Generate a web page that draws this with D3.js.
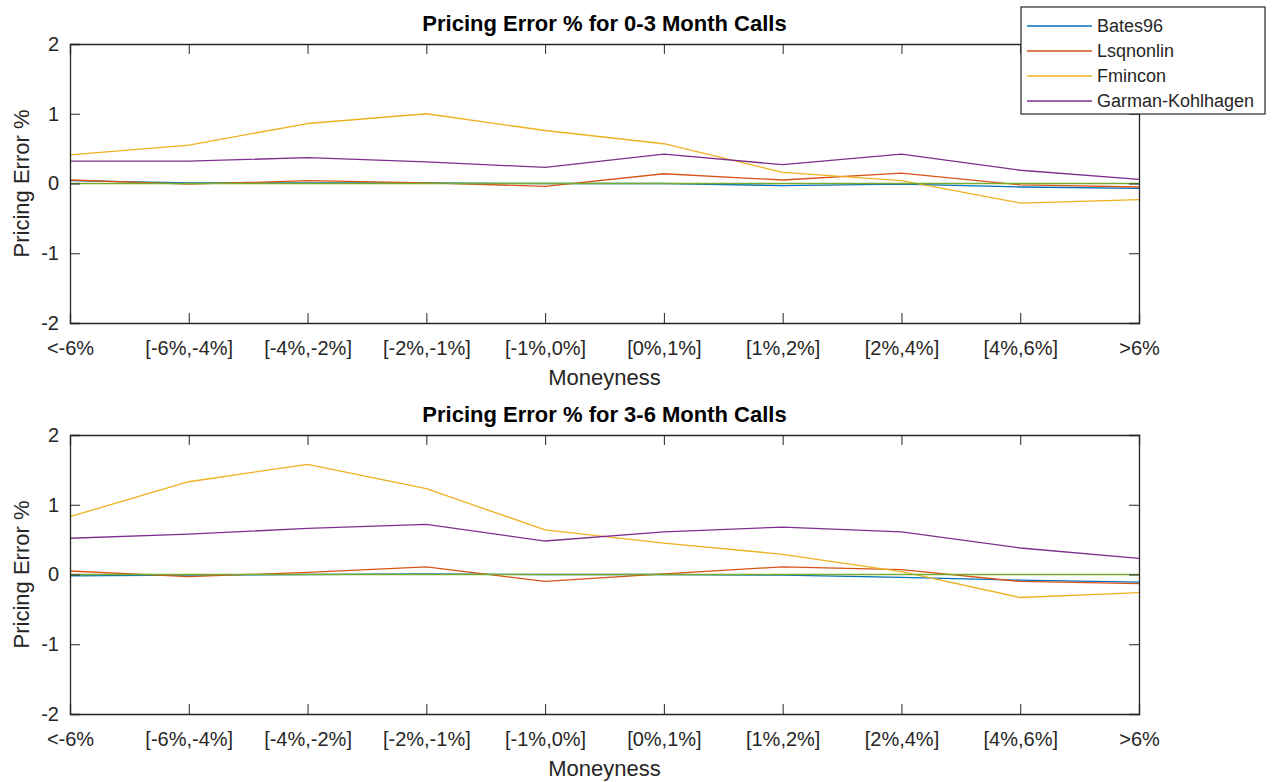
<!DOCTYPE html>
<html>
<head>
<meta charset="utf-8">
<script src="https://cdn.jsdelivr.net/npm/d3@7"></script>
<style>
  html, body { margin: 0; padding: 0; background: #fff; }
  svg { display: block; font-family: "Liberation Sans", Arial, sans-serif; }
</style>
</head>
<body>
<svg id="chart" width="1278" height="782"></svg>
<script>
// Moneyness buckets
const categories = ["<-6%", "[-6%,-4%]", "[-4%,-2%]", "[-2%,-1%]", "[-1%,0%]",
                    "[0%,1%]", "[1%,2%]", "[2%,4%]", "[4%,6%]", ">6%"];
const yTicks = [-2, -1, 0, 1, 2];
const seriesNames = ["Bates96", "Lsqnonlin", "Fmincon", "Garman-Kohlhagen"];

// 0-3 month calls, pricing error %
const bates03   = [0.04, 0.01, 0.01, 0.01, 0.00, 0.00, -0.03, -0.01, -0.05, -0.07];
const lsq03     = [0.05, -0.01, 0.04, 0.01, -0.04, 0.14, 0.05, 0.15, -0.02, -0.05];
const fmincon03 = [0.41, 0.55, 0.86, 1.00, 0.76, 0.57, 0.16, 0.04, -0.28, -0.23];
const gk03      = [0.32, 0.32, 0.37, 0.31, 0.23, 0.42, 0.27, 0.42, 0.19, 0.06];
const zero03    = [0, 0, 0, 0, 0, 0, 0, 0, 0, 0];

// 3-6 month calls, pricing error %
const bates36   = [-0.02, -0.01, 0.00, 0.01, 0.00, 0.00, -0.01, -0.04, -0.08, -0.11];
const lsq36     = [0.05, -0.03, 0.03, 0.11, -0.10, 0.01, 0.11, 0.07, -0.10, -0.13];
const fmincon36 = [0.83, 1.33, 1.58, 1.23, 0.64, 0.45, 0.29, 0.04, -0.33, -0.26];
const gk36      = [0.52, 0.58, 0.66, 0.72, 0.48, 0.61, 0.68, 0.61, 0.38, 0.23];
const zero36    = [0, 0, 0, 0, 0, 0, 0, 0, 0, 0];

// MATLAB default line colour order
const colors = ["#0072BD", "#D95319", "#EDB120", "#7E2F8E", "#77AC30"];
const axisColor = "#262626";

const svg = d3.select("#chart");
const left = 70, right = 1139;
const tickLen = 10;

const x = d3.scalePoint().domain(categories).range([left, right]);

function drawPanel(top, bottom, title, series) {
  const y = d3.scaleLinear().domain([-2, 2]).range([bottom, top]);
  const g = svg.append("g");

  // lines (zero reference drawn last)
  const line = d3.line().x((d, i) => x(categories[i])).y(d => y(d));
  series.forEach((vals, k) => {
    g.append("path")
      .attr("d", line(vals))
      .attr("fill", "none")
      .attr("stroke", colors[k])
      .attr("stroke-width", 1.3)
      .attr("stroke-linejoin", "round");
  });

  // axes with inward ticks on all four sides
  const axB = d3.axisBottom(x).tickSize(-tickLen).tickPadding(18);
  const axT = d3.axisTop(x).tickSize(-tickLen).tickFormat("");
  const axL = d3.axisLeft(y).tickValues(yTicks).tickSize(-tickLen).tickPadding(11).tickFormat(d => String(d));
  const axR = d3.axisRight(y).tickValues(yTicks).tickSize(-tickLen).tickFormat("");

  const gb = g.append("g").attr("transform", `translate(0,${bottom})`).call(axB);
  const gt = g.append("g").attr("transform", `translate(0,${top})`).call(axT);
  const gl = g.append("g").attr("transform", `translate(${left},0)`).call(axL);
  const gr = g.append("g").attr("transform", `translate(${right},0)`).call(axR);

  [gb, gt, gl, gr].forEach(a => {
    a.selectAll("path.domain").attr("stroke", axisColor).attr("stroke-width", 1.3);
    a.selectAll(".tick line").attr("stroke", axisColor).attr("stroke-width", 1);
    a.selectAll(".tick text")
      .attr("fill", axisColor)
      .style("font-size", "20px")
      .style("font-family", "'Liberation Sans', Arial, sans-serif");
  });

  g.append("text")
    .attr("x", (left + right) / 2).attr("y", top - 13)
    .attr("text-anchor", "middle")
    .attr("fill", "#000")
    .style("font-size", "22px").style("font-weight", "bold")
    .text(title);

  g.append("text")
    .attr("x", (left + right) / 2).attr("y", bottom + 62)
    .attr("text-anchor", "middle")
    .attr("fill", axisColor)
    .style("font-size", "22px")
    .text("Moneyness");

  g.append("text")
    .attr("transform", `translate(29,${(top + bottom) / 2}) rotate(-90)`)
    .attr("text-anchor", "middle")
    .attr("fill", axisColor)
    .style("font-size", "22px")
    .text("Pricing Error %");
}

drawPanel(44, 323, "Pricing Error % for 0-3 Month Calls",
          [bates03, lsq03, fmincon03, gk03, zero03]);
drawPanel(435, 714, "Pricing Error % for 3-6 Month Calls",
          [bates36, lsq36, fmincon36, gk36, zero36]);

// legend
const lg = svg.append("g");
lg.append("rect")
  .attr("x", 1021).attr("y", 7).attr("width", 244).attr("height", 107)
  .attr("fill", "#fff").attr("stroke", axisColor).attr("stroke-width", 1.2);
seriesNames.forEach((name, i) => {
  const yy = 26 + i * 25;
  lg.append("line")
    .attr("x1", 1027).attr("x2", 1092).attr("y1", yy).attr("y2", yy)
    .attr("stroke", colors[i]).attr("stroke-width", 1.3);
  lg.append("text")
    .attr("x", 1097).attr("y", yy).attr("dy", "0.35em")
    .attr("fill", axisColor)
    .style("font-size", "18px")
    .text(name);
});
</script>
</body>
</html>
